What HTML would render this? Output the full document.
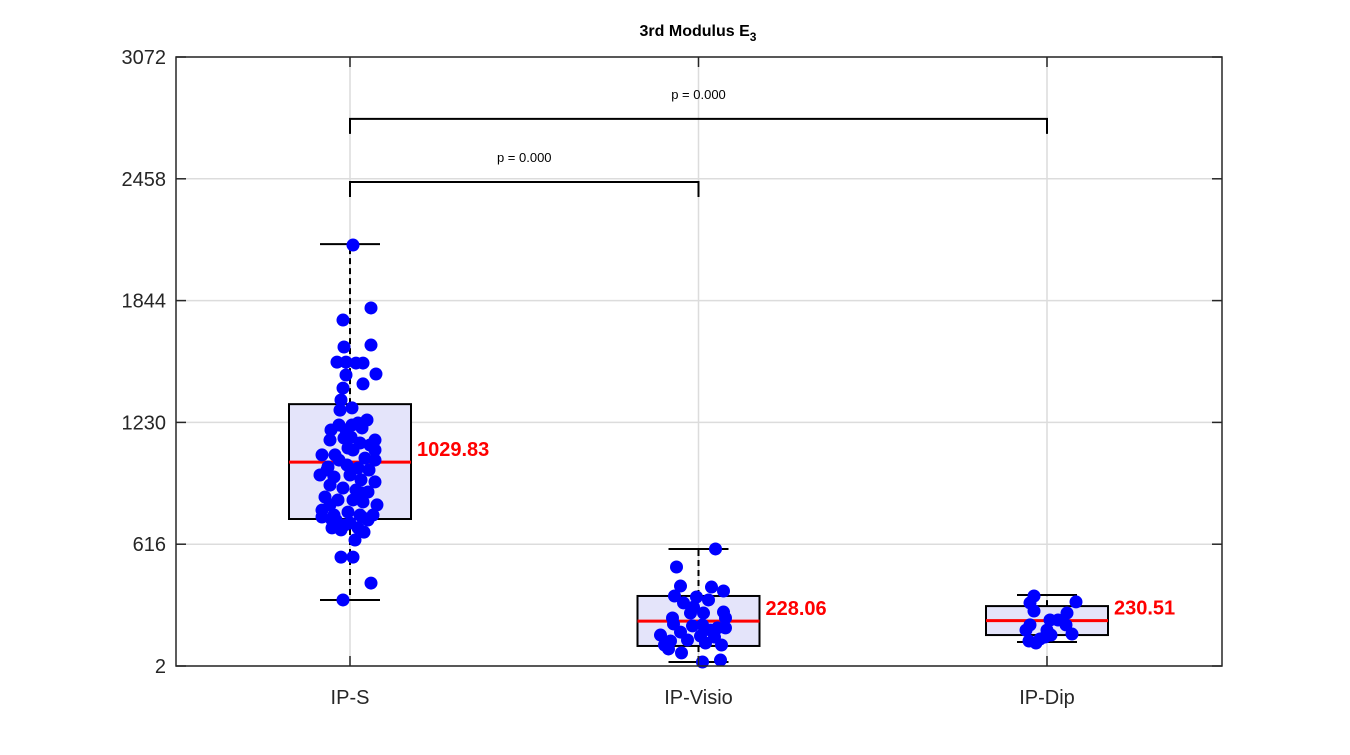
<!DOCTYPE html>
<html><head><meta charset="utf-8"><style>
body{margin:0;background:#fff}
svg text{font-family:"Liberation Sans",Arial,sans-serif}
</style></head><body>
<svg id="chart" width="1350" height="750" xmlns="http://www.w3.org/2000/svg">
<rect width="1350" height="750" fill="#fff"/>
<g id="grid"></g><g id="marks"></g><g id="axes"></g>
</svg>
<script>
const categories=["IP-S","IP-Visio","IP-Dip"];
const yTicks=[2,616,1230,1844,2458,3072];
const medians=[1029.83,228.06,230.51];
const q1=[743,103,158];
const q3=[1322,355,304];
const whiskerLo=[335,22,123];
const whiskerHi=[2129,592,360];
const ipsValues=[2124,1807,1746,1620,1610,1534,1534,1529,1529,1474,1469,1424,1403,1343,1303,1292,1242,1217,1227,1217,1202,1192,1192,1141,1141,1156,1126,1116,1066,1066,1091,1040,1050,1040,1005,1015,1000,990,965,955,965,940,930,914,899,889,879,854,839,839,829,814,788,763,778,763,763,753,738,723,753,713,698,698,738,688,874,814,1101,738,551,551,420,335,637,677,990,1091,1151,849];
const ipsJitter=[3,21,-7,21,-6,-13,-4,6,13,26,-4,13,-7,-9,2,-10,17,-11,8,2,12,-19,-4,25,-20,1,10,20,-28,-15,3,-11,15,25,-22,-3,8,19,-30,-16,0,11,25,-20,-7,6,18,-25,-12,3,13,27,-28,-16,-2,10,23,-28,-14,0,12,-5,-18,8,18,-9,12,-20,-2,-18,-9,3,21,-7,5,14,-23,25,-6,10];
const visioValues=[592,501,405,355,400,380,320,299,269,209,274,244,214,173,194,183,133,153,148,108,88,68,128,22,32,204,158,335,350,269,244,194,108,118];
const visioJitter=[17,-22,-18,-24,13,25,-15,-5,5,4,25,-26,-25,-18,27,12,-11,2,16,23,-30,-17,-28,4,22,-6,-38,10,-2,-8,27,19,-34,7];
const dipValues=[355,320,325,279,269,209,234,234,209,183,183,158,163,138,128,118,148];
const dipJitter=[-13,-17,29,-13,20,-17,3,11,19,-21,0,4,25,-7,-18,-11,-2];
const pairs=[[0,1],[0,2]];
const pLabels=["p = 0.000","p = 0.000"];
const bracketLevels=[2442,2760];

const X0=176,X1=1222,Y0=57,Y1=666,ymin=2,ymax=3072;
const xPos=i=>350+i*348.5;
const yPos=v=>Y1-(v-ymin)/(ymax-ymin)*(Y1-Y0);
const NS="http://www.w3.org/2000/svg";
function mk(tag,attrs,parent,text){const e=document.createElementNS(NS,tag);for(const k in attrs)e.setAttribute(k,attrs[k]);if(text!==undefined)e.textContent=text;parent.appendChild(e);return e;}
const grid=document.getElementById('grid'),marks=document.getElementById('marks'),axes=document.getElementById('axes');

yTicks.forEach(t=>{const y=yPos(t);
 const g=mk('line',{x1:X0,x2:X1,y1:y,y2:y,stroke:'#dcdcdc','stroke-width':1.5},grid);
 
 const tl=mk('text',{x:X0-10,y:y+7,'text-anchor':'end','font-size':20,fill:'#262626'},axes,String(t));
 
 mk('line',{x1:X0,x2:X0+10,y1:y,y2:y,stroke:'#262626','stroke-width':1.5},axes);
 mk('line',{x1:X1-10,x2:X1,y1:y,y2:y,stroke:'#262626','stroke-width':1.5},axes);
});
categories.forEach((c,i)=>{const x=xPos(i);
 const g=mk('line',{x1:x,x2:x,y1:Y0,y2:Y1,stroke:'#dcdcdc','stroke-width':1.5},grid);
 
 const tl=mk('text',{x:x,y:704,'text-anchor':'middle','font-size':20,fill:'#262626'},axes,c);
 
 mk('line',{x1:x,x2:x,y1:Y1,y2:Y1-10,stroke:'#262626','stroke-width':1.5},axes);
 mk('line',{x1:x,x2:x,y1:Y0,y2:Y0+10,stroke:'#262626','stroke-width':1.5},axes);
});
const frame=mk('rect',{x:X0,y:Y0,width:X1-X0,height:Y1-Y0,fill:'none',stroke:'#262626','stroke-width':1.5},axes);

const title=mk('text',{x:698,y:36,'text-anchor':'middle','font-size':16,'font-weight':'bold',fill:'#000'},axes);

title.innerHTML='3rd Modulus E<tspan font-size="12" dy="5">3</tspan>';

const allVals=[ipsValues,visioValues,dipValues],allJit=[ipsJitter,visioJitter,dipJitter];
const names=['ip-s','ip-visio','ip-dip'];
categories.forEach((c,i)=>{const x=xPos(i),hw=61;
 const g=mk('g',{},marks);
 
 mk('line',{x1:x,x2:x,y1:yPos(q3[i]),y2:yPos(whiskerHi[i]),stroke:'#000','stroke-width':2,'stroke-dasharray':'6,4'},g);
 mk('line',{x1:x,x2:x,y1:yPos(q1[i]),y2:yPos(whiskerLo[i]),stroke:'#000','stroke-width':2,'stroke-dasharray':'6,4'},g);
 mk('line',{x1:x-30,x2:x+30,y1:yPos(whiskerHi[i]),y2:yPos(whiskerHi[i]),stroke:'#000','stroke-width':2},g);
 mk('line',{x1:x-30,x2:x+30,y1:yPos(whiskerLo[i]),y2:yPos(whiskerLo[i]),stroke:'#000','stroke-width':2},g);
 mk('rect',{x:x-hw,y:yPos(q3[i]),width:2*hw,height:yPos(q1[i])-yPos(q3[i]),fill:'#e4e4fa',stroke:'#000','stroke-width':2},g);
 mk('line',{x1:x-hw,x2:x+hw,y1:yPos(medians[i]),y2:yPos(medians[i]),stroke:'#ff0000','stroke-width':3},g);
 const lab=mk('text',{x:x+hw+6,y:yPos(medians[i])-6,'font-size':20,'font-weight':'bold',fill:'#ff0000'},marks,medians[i].toFixed(2));
 
 allVals[i].forEach((v,j)=>{
  const d=mk('circle',{cx:x+allJit[i][j],cy:yPos(v),r:6.5,fill:'#0000ff'},marks);
  
  
 });
});
pairs.forEach((p,k)=>{const y=yPos(bracketLevels[k]),xa=xPos(p[0]),xb=xPos(p[1]);
 const b=mk('path',{d:`M${xa},${y+15}V${y}H${xb}V${y+15}`,fill:'none',stroke:'#000','stroke-width':2},marks);
 
 const t=mk('text',{x:(xa+xb)/2,y:y-20,'text-anchor':'middle','font-size':13,fill:'#000'},marks,pLabels[k]);
 
});
</script>
</body></html>
